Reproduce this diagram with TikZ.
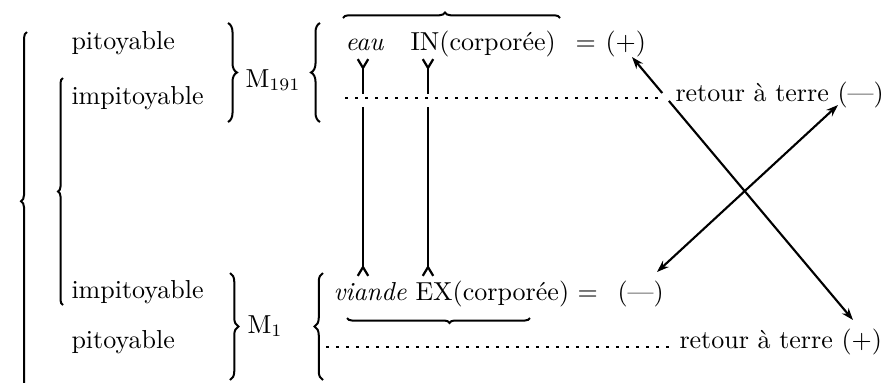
\documentclass[tikz,border=0pt]{standalone}
\usetikzlibrary{arrows.meta,decorations.pathreplacing,calc}
\tikzset{
  txt/.style={anchor=base west, inner sep=0pt, font=\fontsize{10.4}{12}\selectfont},
  brc/.style 2 args={decorate, decoration={brace, amplitude=#1, aspect=#2}, line width=0.8pt},
  dots/.style={line width=0.9pt, dash pattern=on 1pt off 3pt},
  vline/.style={line width=1pt},
  xl/.style={line width=0.85pt},
  Fk/.tip={Straight Barb[reversed,length=3.5pt,width=4.2pt,line width=0.9pt]},
  St/.tip={Stealth[length=4.8pt,width=3.4pt]},
}
\begin{document}
\begin{tikzpicture}[x=0.4pt,y=-0.4pt]
\useasboundingbox (0,0) rectangle (882,382);
% braces
\draw[brc={2.4pt}{0.53}] (27,392) -- (27,32);
\draw[brc={2pt}{0.5}] (63,305) -- (63,78);
\draw[brc={3.6pt}{0.5}] (228,23) -- (228,122);
\draw[brc={3.6pt}{0.5}] (320,122) -- (320,23);
\draw[brc={3.4pt}{0.5}] (230,273) -- (230,380);
\draw[brc={3.4pt}{0.5}] (323,380) -- (323,273);
\draw[brc={2.2pt}{0.47}] (343,18) -- (560,18);
\draw[brc={2pt}{0.44}] (530,318) -- (347,318);
% left texts
\node[txt] (p1) at (71,49) {pitoyable};
\node[txt] (i1) at (71,104) {impitoyable};
\node[txt] (i2) at (71,298) {impitoyable};
\node[txt] (p2) at (71,348) {pitoyable};
\node[txt] (m191) at (245,87) {M$_{191}$};
\node[txt] (m1) at (247,333) {M$_{1}$};
% right texts
\node[txt] (eau) at (345,50) {\itshape eau};
\node[txt] (in) at (410,50) {IN(corporée)};
\node[txt] (eq1) at (575,50) {=};
\node[txt] (pl1) at (605,50) {(+)};
\node[txt] (via) at (333,300) {\itshape viande};
\node[txt] (ex) at (415,300) {EX(corporée)};
\node[txt] (eq2) at (577,300) {=};
\node[txt] (mi1) at (617,300) {(---)};
\node[txt] (rt1) at (675,101) {retour à terre (---)};
\node[txt] (rt2) at (679,348) {retour à terre (+)};
% dotted lines
\coordinate (d1) at (345,98); \coordinate (d2) at (660,98);
\coordinate (d3) at (326,347); \coordinate (d4) at (675,347);
\draw[dots] (d1) -- (d2);
\draw[dots] (d3) -- (d4);
% vertical connectors
\coordinate (a1) at (363,58); \coordinate (a2) at (363,94);
\coordinate (a3) at (363,107); \coordinate (a4) at (363,277);
\coordinate (b1) at (428,58); \coordinate (b2) at (428,94);
\coordinate (b3) at (428,107); \coordinate (b4) at (428,277);
\draw[vline, Fk-] (a1) -- (a2);
\draw[vline, -Fk] (a3) -- (a4);
\draw[vline, Fk-] (b1) -- (b2);
\draw[vline, -Fk] (b3) -- (b4);
% crossing arrows
\coordinate (u1) at (632,57); \coordinate (u2) at (853,320);
\coordinate (ug1) at ($(u1)!0.137!(u2)$); \coordinate (ug2) at ($(u1)!0.167!(u2)$);
\draw[xl, St-] (u1) -- (ug1);
\draw[xl, -St] (ug2) -- (u2);
\coordinate (v1) at (838,105); \coordinate (v2) at (657,272);
\draw[xl, St-St] (v1) -- (v2);
\end{tikzpicture}
\end{document}
